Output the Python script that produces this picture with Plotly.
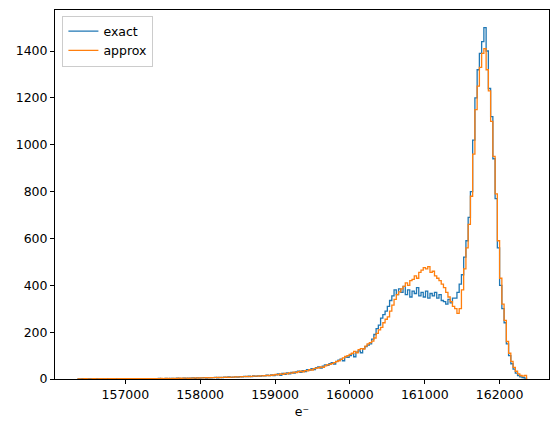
import numpy as np
import plotly.graph_objects as go

# Histogram binning (uniform bins)
BIN_START = 156360
BIN_WIDTH = 30

SERIES_NAMES = ["exact", "approx"]

EXACT_COUNTS = [
    0, 0, 1, 0, 0, 1, 0, 0, 1, 0,
    1, 0, 1, 1, 0, 1, 0, 1, 1, 1,
    1, 1, 0, 1, 2, 1, 1, 2, 1, 1,
    2, 1, 2, 2, 1, 2, 3, 2, 2, 3,
    2, 3, 3, 2, 4, 3, 3, 4, 3, 4,
    4, 5, 3, 5, 4, 5, 6, 4, 6, 5,
    6, 7, 5, 7, 6, 8, 7, 9, 7, 8,
    9, 8, 10, 9, 11, 10, 12, 10, 13, 11,
    13, 12, 14, 13, 16, 14, 17, 15,
    18, 22, 16, 24, 20, 26, 22, 28, 25, 30,
    34, 28, 36, 32, 40, 38, 44, 40, 48, 52,
    46, 55, 60, 58, 66, 70, 64, 75, 80, 85,
    78, 95, 92,
    100, 108, 95, 115, 120, 112, 130, 138, 145, 150,
    170, 190, 215, 230, 260, 275, 290, 310, 335, 355,
    380, 360, 385, 370, 395, 360, 380, 350, 375, 365,
    390, 355, 370, 350, 375, 345, 365, 355, 370, 345,
    360, 335, 330, 320, 340, 325, 345,
    345, 370, 405, 445, 520, 590, 690, 800, 1020, 1200,
    1320, 1390, 1440, 1500, 1400, 1240, 1120, 940, 770, 560,
    400, 300, 240, 150, 100, 65, 42, 25, 15, 9,
    6, 4,
]

APPROX_COUNTS = [
    0, 0, 0, 1, 0, 0, 0, 1, 0, 0,
    1, 0, 1, 0, 1, 1, 1, 0, 1, 1,
    1, 1, 1, 1, 1, 2, 1, 1, 2, 1,
    2, 2, 1, 2, 2, 2, 2, 3, 2, 3,
    3, 2, 3, 3, 3, 4, 3, 4, 4, 3,
    4, 4, 5, 4, 5, 5, 5, 6, 5, 6,
    6, 6, 7, 6, 7, 7, 8, 7, 8, 8,
    9, 9, 9, 10, 10, 11, 10, 11, 12, 12,
    12, 13, 13, 14, 15, 15, 16, 17,
    20, 18, 22, 20, 24, 22, 26, 25, 29, 27,
    31, 33, 31, 36, 35, 40, 38, 44, 46, 48,
    52, 50, 56, 60, 62, 66, 70, 74, 78, 84,
    90, 96, 100,
    105, 110, 118, 112, 125, 130, 128, 140, 150, 155,
    162, 175, 195, 210, 220, 240, 255, 265, 290, 315,
    340, 360, 372, 385, 395, 410, 400, 420, 425, 440,
    430, 455, 465, 475, 470, 480, 455, 460, 440, 430,
    420, 405, 390, 370, 350, 330, 310,
    300, 280, 300, 380, 470, 560, 660, 780, 960, 1150,
    1250, 1330, 1390, 1410, 1320, 1230, 1100, 950, 790, 590,
    430, 320, 250, 160, 110, 75, 50, 33, 22, 15,
    12, 15,
]

X_TICKS = [157000, 158000, 159000, 160000, 161000, 162000]
Y_TICKS = [0, 200, 400, 600, 800, 1000, 1200, 1400]
X_LABEL = "e\u207b"

COLORS = ["#1f77b4", "#ff7f0e"]


def step_outline(counts):
    n = len(counts)
    edges = BIN_START + BIN_WIDTH * np.arange(n + 1)
    xs = [edges[0]] + list(edges[:-1]) + [edges[-1], edges[-1]]
    ys = [0] + list(counts) + [counts[-1], 0]
    return xs, ys, edges


fig = go.Figure()
all_edges = None
for name, counts, color in zip(SERIES_NAMES, [EXACT_COUNTS, APPROX_COUNTS], COLORS):
    xs, ys, all_edges = step_outline(counts)
    fig.add_trace(go.Scatter(
        x=xs, y=ys, mode="lines", name=name,
        line=dict(color=color, width=1.3, shape="hv"),
    ))

lo, hi = float(all_edges[0]), float(all_edges[-1])
pad = 0.05 * (hi - lo)
ymax = max(max(EXACT_COUNTS), max(APPROX_COUNTS)) * 1.05

font = dict(family="DejaVu Sans", size=12.5, color="black")

fig.update_layout(
    width=560, height=432,
    margin=dict(l=55, r=11, t=10, b=53),
    paper_bgcolor="white", plot_bgcolor="white",
    font=font,
    showlegend=True,
    legend=dict(
        x=0.015, y=0.985, xanchor="left", yanchor="top",
        bgcolor="rgba(255,255,255,0.8)", bordercolor="#cccccc", borderwidth=1,
        font=font, tracegroupgap=0,
    ),
    xaxis=dict(
        range=[lo - pad, hi + pad],
        tickvals=X_TICKS, ticktext=[str(v) for v in X_TICKS],
        ticks="outside", ticklen=4, tickcolor="black", tickwidth=1,
        showline=True, linecolor="black", linewidth=1, mirror=True,
        showgrid=False, zeroline=False,
        title=dict(text=X_LABEL, font=font, standoff=6),
    ),
    yaxis=dict(
        range=[0, ymax],
        tickvals=Y_TICKS, ticktext=[str(v) for v in Y_TICKS],
        ticks="outside", ticklen=4, tickcolor="black", tickwidth=1,
        showline=True, linecolor="black", linewidth=1, mirror=True,
        showgrid=False, zeroline=False,
    ),
)

fig.write_html("out.html")
